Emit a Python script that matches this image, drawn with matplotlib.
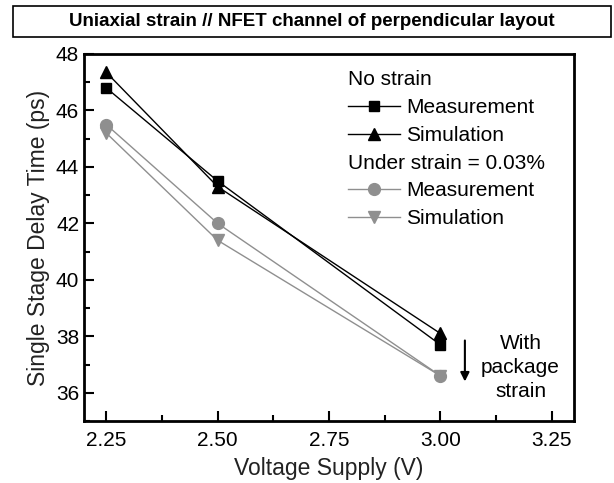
import matplotlib.pyplot as plt
from matplotlib.lines import Line2D
from matplotlib.patches import Rectangle
from matplotlib.ticker import MultipleLocator

plt.rcParams['font.family'] = ['Liberation Sans', 'DejaVu Sans']

voltage = [2.25, 2.50, 3.00]
nostrain_meas = [46.8, 43.5, 37.7]
nostrain_sim = [47.35, 43.3, 38.1]
strain_meas = [45.5, 42.0, 36.6]
strain_sim = [45.2, 41.4, 36.6]

gray = '#8f8f8f'

fig = plt.figure(figsize=(6.14, 4.83), dpi=100)
ax = fig.add_axes([0.1368, 0.1284, 0.7981, 0.7598])

l1, = ax.plot(voltage, nostrain_meas, color='black', lw=1, marker='s', ms=7.5)
l2, = ax.plot(voltage, nostrain_sim, color='black', lw=1, marker='^', ms=9)
l3, = ax.plot(voltage, strain_meas, color=gray, lw=1, marker='o', ms=8.5)
l4, = ax.plot(voltage, strain_sim, color=gray, lw=1, marker='v', ms=9)

ax.set_xlim(2.2, 3.3)
ax.set_ylim(35, 48)
ax.xaxis.set_major_locator(MultipleLocator(0.25))
ax.xaxis.set_minor_locator(MultipleLocator(0.125))
ax.yaxis.set_major_locator(MultipleLocator(2))
ax.yaxis.set_minor_locator(MultipleLocator(1))
ax.tick_params(which='both', direction='in', top=False, right=False, labelsize=15, width=1.5)
ax.tick_params(which='major', length=7)
ax.tick_params(which='minor', length=4)
ax.tick_params(axis='x', pad=7)
ax.set_xticks([2.25, 2.50, 2.75, 3.00, 3.25])
ax.set_xticklabels(['2.25', '2.50', '2.75', '3.00', '3.25'])
for s in ax.spines.values():
    s.set_linewidth(2)

ax.set_xlabel('Voltage Supply (V)', fontsize=16.5, color='#222222', labelpad=5)
ax.set_ylabel('Single Stage Delay Time (ps)', fontsize=16.5, color='#222222')

blank = Line2D([], [], color='none')
handles = [blank, l1, l2, blank, l3, l4]
labels = ['No strain', 'Measurement', 'Simulation', 'Under strain = 0.03%', 'Measurement', 'Simulation']
leg = ax.legend(handles, labels, loc='upper left', bbox_to_anchor=(0.508, 0.995), frameon=False,
                fontsize=15, handlelength=2.5, handletextpad=0.3, labelspacing=0.42,
                borderpad=0.2)
# push header rows to the left edge of the handles
for vpack in leg._legend_handle_box.get_children():
    for i, hpack in enumerate(vpack.get_children()):
        if labels[i] in ('No strain', 'Under strain = 0.03%'):
            hpack.get_children()[0].width = 0
            hpack.sep = 0

ax.annotate('', xy=(3.055, 36.3), xytext=(3.055, 37.95),
            arrowprops=dict(arrowstyle='-|>', color='black', lw=1.5, mutation_scale=13))
ax.text(3.18, 36.9, 'With\npackage\nstrain', ha='center', va='center', fontsize=15,
        linespacing=1.35)

fig.patches.append(Rectangle((0.021, 0.923), 0.974, 0.065, transform=fig.transFigure,
                             fill=False, edgecolor='black', lw=1.2))
fig.text(0.508, 0.9555, 'Uniaxial strain // NFET channel of perpendicular layout',
         ha='center', va='center', fontsize=13.5, fontweight='bold')

fig.savefig('out.png', dpi=100)
